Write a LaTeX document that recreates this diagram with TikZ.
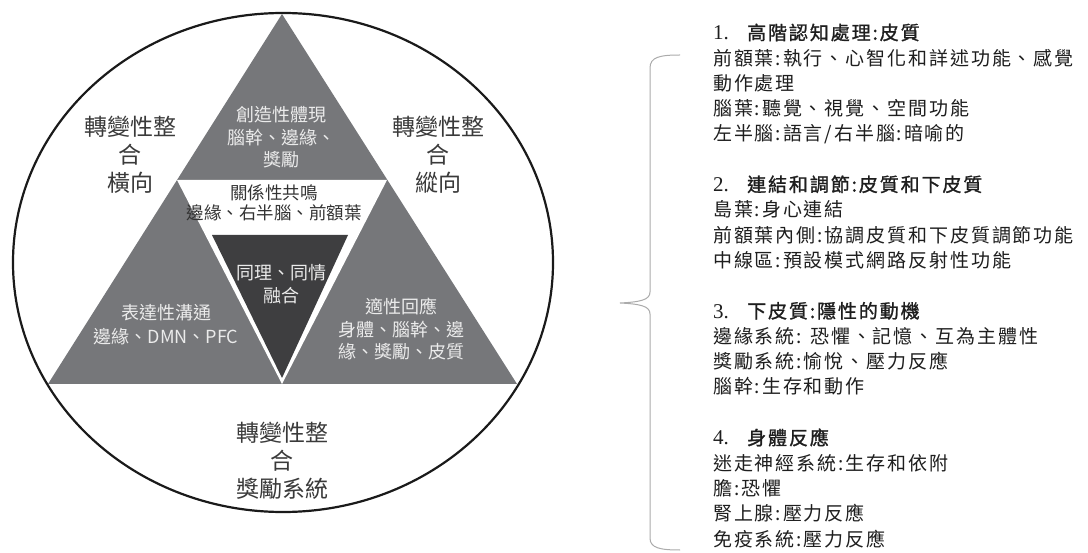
\documentclass[tikz,border=0pt]{standalone}
\usepackage{fontspec}
\newfontfamily\cjk{Noto Sans CJK TC}
\newfontfamily\cjks[LetterSpace=10]{Noto Sans CJK TC}
\newfontfamily\cjksb[LetterSpace=10,FakeBold=1.2]{Noto Sans CJK TC}
\newfontfamily\numf{Liberation Serif}
\newcommand\secnum[1]{\makebox[34pt][l]{\numf\fontsize{21}{25.3}\selectfont #1}}
\definecolor{grayc}{HTML}{76777A}
\definecolor{darkc}{HTML}{3E3E40}
\definecolor{labelc}{HTML}{3A3A3A}
\definecolor{tric}{HTML}{EBEBEB}
\definecolor{midtext}{HTML}{333333}
\definecolor{ringc}{HTML}{1A1A1A}
\definecolor{bracec}{HTML}{ABABAB}
\definecolor{rtext}{HTML}{1E1E1E}
\begin{document}
\begin{tikzpicture}[x=1pt,y=-1pt,
  lbl/.style={font=\cjk\fontsize{23}{28}\selectfont, text=labelc, align=center, inner sep=0},
  tri/.style={font=\cjk\fontsize{18}{22.5}\selectfont, text=tric, align=center, inner sep=0},
  sec/.style={font=\cjks\fontsize{19}{25.3}\selectfont, text=rtext, align=left, anchor=north west, inner sep=0},
]
\useasboundingbox (0,0) rectangle (1088,553);
\fill[white] (0,0) rectangle (1088,553);
% triangles
\coordinate (A) at (282,14);
\coordinate (B) at (48,384);
\coordinate (C) at (517,384);
\coordinate (W1) at (177,180);
\coordinate (W2) at (387,180);
\coordinate (W3) at (282,384);
\coordinate (D1) at (212,235);
\coordinate (D2) at (348,235);
\coordinate (D3) at (282,378);
\fill[grayc] (A)--(B)--(C)--cycle;
\fill[white] (W1)--(W2)--(W3)--cycle;
\fill[darkc] (D1)--(D2)--(D3)--cycle;
\coordinate (O) at (283,262.5);
\draw[line width=2.2pt, ringc] (O) ellipse [x radius=270, y radius=249.5];
% outer labels
\node[lbl] (hl) at (130,155) {轉變性整\\合\\橫向};
\node[lbl] (hr) at (438,155) {轉變性整\\合\\縱向};
\node[lbl] (hb) at (282,461) {轉變性整\\合\\獎勵系統};
% triangle texts
\node[tri] (t1) at (281,137.5) {創造性體現\\腦幹、邊緣、\\獎勵};
\node[tri, text=midtext, font=\cjk\fontsize{17.5}{20}\selectfont] (t2) at (274,203) {關係性共鳴\\邊緣、右半腦、前額葉};
\node[tri] (t3) at (281,284) {同理、同情\\融合};
\node[tri, font=\cjk\fontsize{18}{24}\selectfont] (t4) at (166,325) {表達性溝通\\邊緣、DMN、PFC};
\node[tri] (t5) at (401,329.5) {適性回應\\身體、腦幹、邊\\緣、獎勵、皮質};
% brace
\coordinate (brtop) at (680,55);
\coordinate (brtip) at (620,303);
\coordinate (brbot) at (680,550);
\draw[bracec, line width=1pt] (brtop) .. controls (660,55) and (650,57) .. (650,68) -- (650,292)
  .. controls (650,300) and (640,302) .. (brtip)
  .. controls (640,304) and (650,306) .. (650,314) -- (650,538)
  .. controls (650,548) and (660,550) .. (brbot);
% right text
\node[sec] (s1) at (713,23.5) {\secnum{1.}{\cjksb 高階認知處理:皮質}\\前額葉:執行、心智化和詳述功能、感覺\\動作處理\\腦葉:聽覺、視覺、空間功能\\左半腦:語言/右半腦:暗喻的};
\node[sec] (s2) at (713,175.3) {\secnum{2.}{\cjksb 連結和調節:皮質和下皮質}\\島葉:身心連結\\前額葉內側:協調皮質和下皮質調節功能\\中線區:預設模式網路反射性功能};
\node[sec] (s3) at (713,301.8) {\secnum{3.}{\cjksb 下皮質:隱性的動機}\\邊緣系統: 恐懼、記憶、互為主體性\\獎勵系統:愉悅、壓力反應\\腦幹:生存和動作};
\node[sec] (s4) at (713,428.3) {\secnum{4.}{\cjksb 身體反應}\\迷走神經系統:生存和依附\\膽:恐懼\\腎上腺:壓力反應\\免疫系統:壓力反應};
\end{tikzpicture}
\end{document}
